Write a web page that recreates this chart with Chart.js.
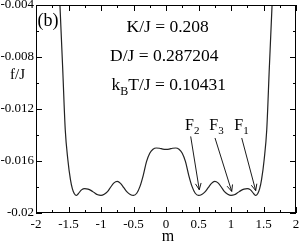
<!DOCTYPE html>
<html><head><meta charset="utf-8">
<script src="https://cdn.jsdelivr.net/npm/chart.js@4"></script>
<style>html,body{margin:0;padding:0;background:#fff}</style>
</head><body>
<canvas id="c" width="300" height="245"></canvas>
<script>
// magnetization m
const mValues = [
  -1.67, -1.63, -1.59, -1.55, -1.51, -1.47, -1.44, -1.41, -1.38, -1.35,
  -1.30, -1.25, -1.20, -1.15, -1.10, -1.05, -1.00, -0.95, -0.90, -0.85,
  -0.80, -0.75, -0.70, -0.65, -0.60, -0.55, -0.50, -0.45, -0.40, -0.35,
  -0.30, -0.25, -0.20, -0.15, -0.10, -0.05, 0.00,
  0.05, 0.10, 0.15, 0.20, 0.25, 0.30, 0.35, 0.40, 0.45, 0.50,
  0.55, 0.60, 0.65, 0.70, 0.75, 0.80, 0.85, 0.90, 0.95, 1.00,
  1.05, 1.10, 1.15, 1.20, 1.25, 1.30, 1.35, 1.38, 1.41, 1.44,
  1.47, 1.51, 1.55, 1.59, 1.63, 1.67
];
// free energy f/J
const fValues = [
  0.0000, -0.0042, -0.0088, -0.01359, -0.0159, -0.01744, -0.01815, -0.01852, -0.01865, -0.01852,
  -0.01822, -0.01812, -0.01816, -0.01828, -0.01845, -0.01860, -0.01864, -0.01855, -0.01835, -0.01800,
  -0.01768, -0.01757, -0.01772, -0.01805, -0.01838, -0.01858, -0.01865, -0.01848, -0.01795, -0.01710,
  -0.01605, -0.01540, -0.01510, -0.01500, -0.01502, -0.01508, -0.01510,
  -0.01508, -0.01502, -0.01500, -0.01510, -0.01540, -0.01605, -0.01710, -0.01795, -0.01848, -0.01865,
  -0.01858, -0.01838, -0.01805, -0.01772, -0.01757, -0.01768, -0.01800, -0.01835, -0.01855, -0.01864,
  -0.01860, -0.01845, -0.01828, -0.01816, -0.01812, -0.01822, -0.01852, -0.01865, -0.01852, -0.01815,
  -0.01744, -0.0159, -0.01359, -0.0088, -0.0042, 0.0000
];
const xMin = -2, xMax = 2, xStep = 0.5;
const yMin = -0.02, yMax = -0.004, yStep = 0.004;
const panelLabel = "(b)";
const paramK = "K/J = 0.208";
const paramD = "D/J = 0.287204";
const paramT = "T/J = 0.10431";
const minimaNames = [["F","2"],["F","3"],["F","1"]];
const minimaLabelAt = [[0.292,-0.01359],[0.666,-0.01359],[1.051,-0.01359]];
const arrowFrom = [[0.38,-0.01411],[0.754,-0.01423],[1.165,-0.01423]];
const arrowTo = [[0.512,-0.01821],[1.011,-0.01834],[1.38,-0.01828]];

const SERIF = '"Liberation Serif","DejaVu Serif",serif';
const points = mValues.map((m,i)=>({x:m,y:fValues[i]}));
const fmt = v => String(parseFloat(Number(v).toFixed(3)));

const decor = {
  id:'decor',
  afterDraw(chart){
    const ctx = chart.ctx, a = chart.chartArea;
    const xs = chart.scales.x, ys = chart.scales.y;
    ctx.save();
    ctx.strokeStyle = '#000'; ctx.lineWidth = 1;
    ctx.strokeRect(Math.round(a.left)+0.5, Math.round(a.top)+0.5,
                   Math.round(a.right-a.left)-1, Math.round(a.bottom-a.top)-1);
    // inward ticks
    ctx.beginPath();
    const xt = xs.ticks.map(t=>t.value);
    xt.forEach((v,i)=>{
      const px = Math.round(xs.getPixelForValue(v))+0.5;
      ctx.moveTo(px,a.bottom); ctx.lineTo(px,a.bottom-6);
      ctx.moveTo(px,a.top); ctx.lineTo(px,a.top+6);
      if(i<xt.length-1){
        const pm = Math.round(xs.getPixelForValue((v+xt[i+1])/2))+0.5;
        ctx.moveTo(pm,a.bottom); ctx.lineTo(pm,a.bottom-3);
        ctx.moveTo(pm,a.top); ctx.lineTo(pm,a.top+3);
      }
    });
    const yt = ys.ticks.map(t=>t.value);
    yt.forEach((v,i)=>{
      const py = Math.round(ys.getPixelForValue(v))+0.5;
      ctx.moveTo(a.left,py); ctx.lineTo(a.left+6,py);
      ctx.moveTo(a.right,py); ctx.lineTo(a.right-6,py);
      if(i<yt.length-1){
        const pm = Math.round(ys.getPixelForValue((v+yt[i+1])/2))+0.5;
        ctx.moveTo(a.left,pm); ctx.lineTo(a.left+3,pm);
        ctx.moveTo(a.right,pm); ctx.lineTo(a.right-3,pm);
      }
    });
    ctx.stroke();
    // texts
    ctx.fillStyle = '#000';
    ctx.textBaseline = 'alphabetic'; ctx.textAlign = 'left';
    ctx.font = '18px '+SERIF;
    ctx.fillText(panelLabel, a.left+1.5, a.top+21);
    ctx.font = '17.5px '+SERIF;
    ctx.fillText(paramK, 126.5, 31.5);
    ctx.fillText(paramD, 110, 61);
    ctx.fillText('k', 111.5, 90);
    const kw = ctx.measureText('k').width;
    ctx.font = '12px '+SERIF;
    ctx.fillText('B', 111.5+kw, 94.5);
    const bw = ctx.measureText('B').width;
    ctx.font = '17.5px '+SERIF;
    ctx.fillText(paramT, 111.5+kw+bw, 90);
    // axis titles
    ctx.font = '15px '+SERIF;
    ctx.textBaseline = 'middle';
    ctx.fillText('f/J', 10, 75);
    ctx.textAlign = 'center'; ctx.textBaseline = 'alphabetic';
    ctx.font = '16px '+SERIF;
    ctx.fillText('m', 168, 241);
    // minima labels
    ctx.textAlign = 'left';
    minimaNames.forEach((n,i)=>{
      const px = xs.getPixelForValue(minimaLabelAt[i][0]);
      const py = ys.getPixelForValue(minimaLabelAt[i][1]);
      ctx.font = '16px '+SERIF;
      ctx.fillText(n[0], px, py);
      const w = ctx.measureText(n[0]).width;
      ctx.font = '11px '+SERIF;
      ctx.fillText(n[1], px+w, py+4);
    });
    // arrows
    ctx.lineWidth = 0.9;
    arrowFrom.forEach((f,i)=>{
      const x0 = xs.getPixelForValue(f[0]), y0 = ys.getPixelForValue(f[1]);
      const x1 = xs.getPixelForValue(arrowTo[i][0]), y1 = ys.getPixelForValue(arrowTo[i][1]);
      const ang = Math.atan2(y1-y0,x1-x0), L = 7, sp = 0.42;
      ctx.beginPath();
      ctx.moveTo(x0,y0); ctx.lineTo(x1,y1);
      ctx.moveTo(x1-L*Math.cos(ang-sp), y1-L*Math.sin(ang-sp));
      ctx.lineTo(x1,y1);
      ctx.lineTo(x1-L*Math.cos(ang+sp), y1-L*Math.sin(ang+sp));
      ctx.stroke();
    });
    ctx.restore();
  }
};

new Chart(document.getElementById('c'), {
  type:'scatter',
  data:{datasets:[{data:points, showLine:true, borderColor:'#222', borderWidth:1.2,
    pointRadius:0, cubicInterpolationMode:'monotone', fill:false}]},
  options:{
    responsive:false, animation:false, devicePixelRatio:1,
    layout:{padding:{top:5,right:4,left:0,bottom:0}},
    plugins:{legend:{display:false}, tooltip:{enabled:false}},
    scales:{
      x:{type:'linear', min:xMin, max:xMax,
        ticks:{stepSize:xStep, color:'#000', padding:4, font:{family:SERIF,size:13},
          maxRotation:0, autoSkip:false, callback:fmt},
        grid:{display:false, drawTicks:false}, border:{display:false},
        afterFit(s){ s.height = 32; s.paddingLeft = 0; s.paddingRight = 0; }
      },
      y:{type:'linear', min:yMin, max:yMax,
        ticks:{stepSize:yStep, color:'#000', padding:2, font:{family:SERIF,size:13},
          autoSkip:false, callback:fmt},
        grid:{display:false, drawTicks:false}, border:{display:false},
        afterFit(s){ s.width = 36; s.paddingTop = 0; s.paddingBottom = 0; }
      }
    }
  },
  plugins:[decor]
});
</script>
</body></html>
